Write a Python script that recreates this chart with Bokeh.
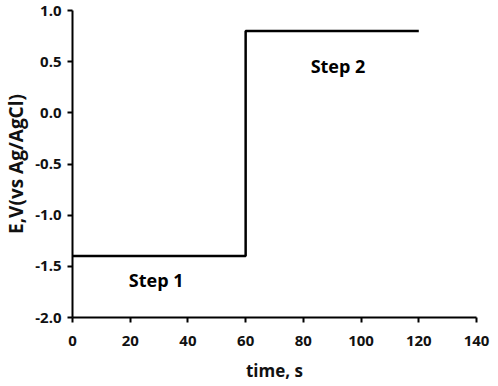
from bokeh.plotting import figure
from bokeh.models import Range1d, FixedTicker, ColumnDataSource
from bokeh.core.properties import value
from bokeh.embed import file_html
from bokeh.resources import INLINE

time_s = [0, 60, 60, 120]
potential_v = [-1.4, -1.4, 0.8, 0.8]
label_text = ["Step 1", "Step 2"]
label_x = [29, 92]
label_y = [-1.63, 0.46]
x_ticks = [0, 20, 40, 60, 80, 100, 120, 140]
y_ticks = [-2.0, -1.5, -1.0, -0.5, 0.0, 0.5, 1.0]

FONT = "Open Sans"

p = figure(width=490, height=384, output_backend="svg", toolbar_location=None,
           x_range=Range1d(0, 140), y_range=Range1d(-2.0, 1.0),
           min_border_left=69, min_border_right=14, min_border_top=10, min_border_bottom=67)
p.outline_line_color = None
p.xgrid.visible = False
p.ygrid.visible = False
p.background_fill_color = "white"
p.border_fill_color = "white"

p.line(time_s, potential_v, line_color="black", line_width=2.5)

src = ColumnDataSource(dict(x=label_x, y=label_y, t=label_text))
p.text(x="x", y="y", text="t", source=src, text_align="center", text_baseline="middle",
       text_font=value(FONT), text_font_style="bold", text_font_size="18px", text_color="black")

for ax in (p.xaxis[0], p.yaxis[0]):
    ax.axis_line_color = "black"
    ax.axis_line_width = 2
    ax.major_tick_line_color = "black"
    ax.major_tick_line_width = 2
    ax.major_tick_out = 5
    ax.major_tick_in = 0
    ax.minor_tick_line_color = None
    ax.major_label_text_font = FONT
    ax.major_label_text_font_style = "bold"
    ax.major_label_text_font_size = "15px"
    ax.major_label_text_color = "#111111"
    ax.axis_label_text_font = FONT
    ax.axis_label_text_font_style = "bold"
    ax.axis_label_text_color = "#111111"

p.xaxis[0].axis_label_text_font_size = "17px"
p.yaxis[0].axis_label_text_font_size = "19px"
p.xaxis[0].ticker = FixedTicker(ticks=x_ticks)
p.yaxis[0].ticker = FixedTicker(ticks=y_ticks)
p.xaxis[0].major_label_overrides = {t: str(t) for t in x_ticks}
p.yaxis[0].major_label_overrides = {t: f"{t:.1f}" for t in y_ticks}
p.xaxis[0].axis_label = "time, s"
p.yaxis[0].axis_label = "E,V(vs Ag/AgCl)"
p.xaxis[0].major_label_standoff = 13
p.yaxis[0].major_label_standoff = 6
p.xaxis[0].axis_label_standoff = 10
p.yaxis[0].axis_label_standoff = 3

open("out.html", "w").write(file_html(p, INLINE))
